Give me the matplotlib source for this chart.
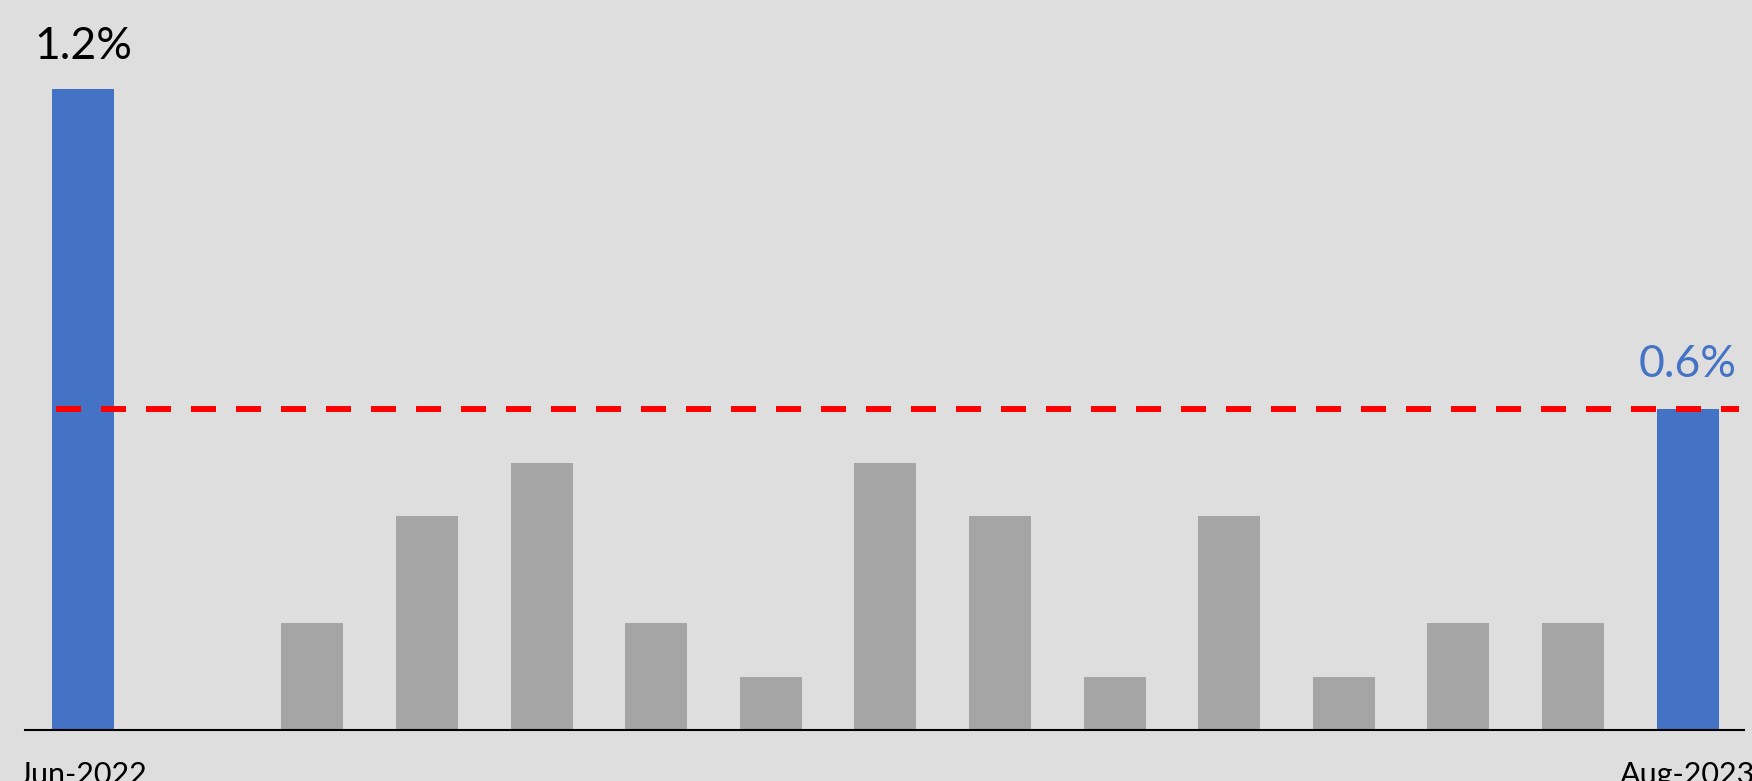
import matplotlib
matplotlib.use("Agg")
import matplotlib.pyplot as plt

# monthly values, Jun-2022 .. Aug-2023
months = ["Jun-2022", "Jul-2022", "Aug-2022", "Sep-2022", "Oct-2022", "Nov-2022",
          "Dec-2022", "Jan-2023", "Feb-2023", "Mar-2023", "Apr-2023", "May-2023",
          "Jun-2023", "Jul-2023", "Aug-2023"]
values = [1.2, 0.0, 0.2, 0.4, 0.5, 0.2, 0.1, 0.5, 0.4, 0.1, 0.4, 0.1, 0.2, 0.2, 0.6]
ref_level = 0.6

blue = "#4472C4"
grey = "#A5A5A5"
bg = "#DEDEDE"

plt.rcParams["font.family"] = ["Lato", "DejaVu Sans"]
plt.rcParams["lines.scale_dashes"] = False

fig = plt.figure(figsize=(17.52, 7.81), dpi=100, facecolor=bg)
ax = fig.add_axes([0.0143, 0.0653, 0.9810, 0.9347])
ax.set_facecolor(bg)

x = list(range(len(values)))
colors = [grey] * len(values)
colors[0] = blue
colors[-1] = blue
ax.bar(x, values, width=0.54, color=colors, zorder=2)

ax.hlines(ref_level, -0.24, 14.45, colors="#FF0000", linewidth=4.3,
          linestyles=(0, (18, 14.4)), zorder=3)

ax.text(x[0], values[0] + 0.04, "1.2%", ha="center", va="bottom",
        fontsize=32, color="black")
ax.text(x[-1], values[-1] + 0.045, "0.6%", ha="center", va="bottom",
        fontsize=32, color=blue)

ax.set_xlim(-0.507, 14.49)
ax.set_ylim(0, 1.366)
ax.set_xticks([x[0], x[-1]])
ax.set_xticklabels([months[0], months[-1]], fontsize=22)
ax.tick_params(axis="x", length=0, pad=22)
ax.set_yticks([])
for s in ["top", "left", "right"]:
    ax.spines[s].set_visible(False)
ax.spines["bottom"].set_linewidth(1.5)
ax.spines["bottom"].set_color("black")

fig.savefig("out.png", dpi=100, facecolor=bg)
